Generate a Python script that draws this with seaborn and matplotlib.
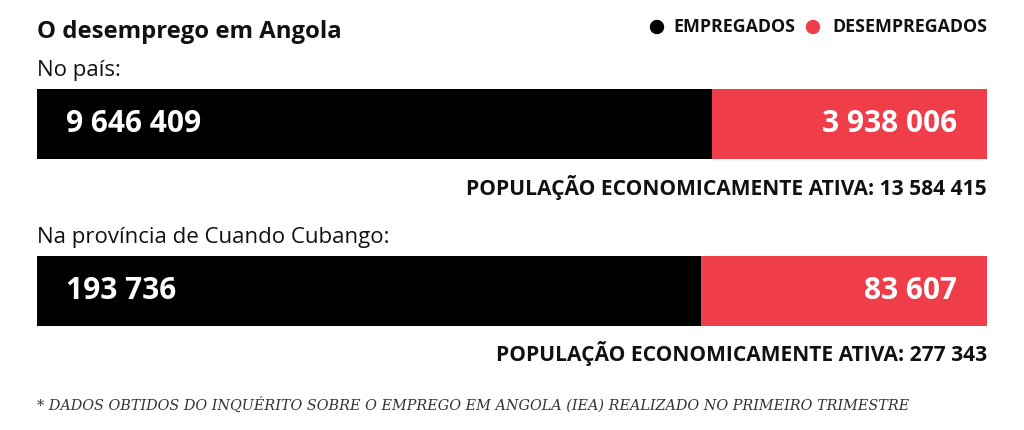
import matplotlib
matplotlib.use("Agg")
import matplotlib.pyplot as plt
import matplotlib.transforms as mtransforms
import seaborn as sns
import pandas as pd

regions = ["No país:", "Na província de Cuando Cubango:"]
empregados = [9646409, 193736]
desempregados = [3938006, 83607]
pea = [13584415, 277343]
legend_labels = ["EMPREGADOS", "DESEMPREGADOS"]
title = "O desemprego em Angola"
footnote = "* DADOS OBTIDOS DO INQUÉRITO SOBRE O EMPREGO EM ANGOLA (IEA) REALIZADO NO PRIMEIRO TRIMESTRE"

BLACK = "#000000"
RED = "#EF3E4A"
SANS = "Open Sans"

sns.set_theme(style="white")
plt.rcParams["font.family"] = [SANS, "DejaVu Sans"]

def fmt(v):
    return f"{v:,}".replace(",", " ")

df = pd.DataFrame({
    "region": regions,
    "emp_share": [e / (e + d) for e, d in zip(empregados, desempregados)],
    "total_share": [1.0 for _ in regions],
})

W, H = 1024, 430
fig = plt.figure(figsize=(W / 100, H / 100), dpi=100)
fig.patch.set_facecolor("white")

# axes spanning bar area: x 37..987, y 89..326 px
ax = fig.add_axes([37 / W, 1 - 326 / H, 950 / W, 237 / H])
bw = 70 / 167
sns.barplot(data=df, y="region", x="total_share", orient="h", color=RED,
            width=bw, saturation=1, linewidth=0, ax=ax)
sns.barplot(data=df, y="region", x="emp_share", orient="h", color=BLACK,
            width=bw, saturation=1, linewidth=0, ax=ax)
ax.set_xlim(0, 1)
ax.set_ylim(1 + bw / 2, -bw / 2)
ax.axis("off")

trans = mtransforms.blended_transform_factory(ax.transAxes, ax.transData)
px = 1 / 167
for i, reg in enumerate(regions):
    ax.text(29 / 950, i, fmt(empregados[i]), transform=trans, ha="left", va="center",
            color="white", fontsize=21.5, fontweight="bold")
    ax.text(1 - 30 / 950, i, fmt(desempregados[i]), transform=trans, ha="right", va="center",
            color="white", fontsize=21.5, fontweight="bold")
    ax.text(0, i - bw / 2 - 8 * px, reg, transform=trans, ha="left", va="bottom",
            color="#111111", fontsize=16, clip_on=False)
    ax.text(1, i + bw / 2 + 28 * px, "POPULAÇÃO ECONOMICAMENTE ATIVA: " + fmt(pea[i]),
            transform=trans, ha="right", va="center", color="#111111",
            fontsize=15.1, fontweight="bold", clip_on=False)

fig.text(37 / W, 1 - 32 / H, title, ha="left", va="center", fontsize=17.2,
         fontweight="bold", color="#111111")

# legend
fig.text(987 / W, 1 - 27 / H, legend_labels[1], ha="right", va="center",
         fontsize=12.8, fontweight="bold", color="#111111")
fig.text(795 / W, 1 - 27 / H, legend_labels[0], ha="right", va="center",
         fontsize=12.8, fontweight="bold", color="#111111")
fig.patches.append(matplotlib.patches.Ellipse((657 / W, 1 - 27 / H), 13 / W, 13 / H,
                                              transform=fig.transFigure, color=BLACK))
fig.patches.append(matplotlib.patches.Ellipse((813 / W, 1 - 27 / H), 13 / W, 13 / H,
                                              transform=fig.transFigure, color=RED))

fig.text(37 / W, 1 - 405 / H, footnote, ha="left", va="center", fontsize=10.4,
         style="italic", family=["DejaVu Serif"], color="#333333")

fig.savefig("out.png", dpi=100, facecolor="white")
